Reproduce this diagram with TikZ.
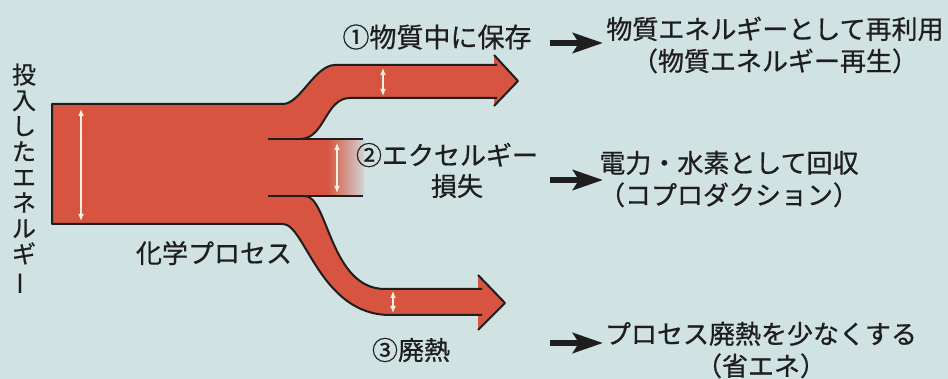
\documentclass[tikz,border=0pt]{standalone}
\usepackage{fontspec}
\setmainfont{Noto Sans CJK JP}[UprightFeatures={FakeBold=0.7}]
\usetikzlibrary{arrows.meta}
\definecolor{bg}{RGB}{208,226,226}
\definecolor{flow}{RGB}{214,84,64}
\definecolor{ink}{RGB}{30,30,30}
\definecolor{pale}{RGB}{255,240,225}
\begin{document}
\begin{tikzpicture}[x=1pt,y=-1pt,
  lbl/.style={font=\fontsize{26}{32}\selectfont, text=ink, inner sep=0pt, align=center},
  edge/.style={draw=ink, line width=2pt, line join=round},
  dim/.style={draw=pale, line width=1.3pt, {Latex[length=7pt,width=6pt]}-{Latex[length=7pt,width=6pt]}},
  bigarrow/.style={draw=ink, line width=6pt, -{Stealth[length=30pt,width=20pt,inset=6pt]}}]
\fill[bg] (0,0) rectangle (948,379);
\useasboundingbox (0,0) rectangle (948,379);
% flow body
\fill[flow] (52,104) -- (283,104) .. controls (300,104) and (315,65) .. (335,65) -- (497,65) -- (497,98) -- (350,98)
  .. controls (325,98) and (325,139) .. (300,139) -- (300,196) -- (305,196)
  .. controls (328,196) and (330,289) .. (385,289) -- (482,289) -- (482,315) -- (390,315)
  .. controls (320,315) and (305,224) .. (283,224) -- (52,224) -- cycle;
\fill[flow] (494,55) -- (518,81) -- (494,106) -- cycle;
\fill[flow] (478,275) -- (505,303) -- (478,330) -- cycle;
\fill[flow] (295,139) rectangle (328,196);
\shade[left color=flow, right color=flow!10!bg] (327,139) rectangle (364,196);
% outlines
\draw[edge] (268,139) -- (363,139);
\draw[edge] (268,196) -- (363,196);
\draw[edge] (300,139) .. controls (325,139) and (325,98) .. (350,98) -- (497,98);
\draw[edge] (497,65) -- (335,65) .. controls (315,65) and (300,104) .. (283,104) -- (52,104) -- (52,224) -- (283,224)
  .. controls (305,224) and (320,315) .. (390,315) -- (482,315);
\draw[edge] (305,196) .. controls (328,196) and (330,289) .. (385,289) -- (482,289);
\draw[edge] (494,55) -- (518,81) -- (494,106);
\draw[edge] (478,275) -- (505,303) -- (478,330);
% dimension arrows
\coordinate (d1a) at (81,109); \coordinate (d1b) at (81,221);
\coordinate (d2a) at (337,143); \coordinate (d2b) at (337,193);
\coordinate (d3a) at (383,68); \coordinate (d3b) at (383,96);
\coordinate (d4a) at (393,291); \coordinate (d4b) at (393,313);
\draw[dim] (d1a) -- (d1b);
\draw[dim] (d2a) -- (d2b);
\draw[dim] (d3a) -- (d3b);
\draw[dim] (d4a) -- (d4b);
% labels
\node[lbl, font=\fontsize{24}{25.6}\selectfont] (vin) at (24,176) {投\\入\\し\\た\\エ\\ネ\\ル\\ギ\\\smash{\rotatebox[origin=c]{90}{ー}}};
\node[lbl] (cp) at (214,253) {化学プロセス};
\node[lbl, font=\fontsize{27}{32}\selectfont] (t1) at (437,37) {①物質中に保存};
\node[lbl] (t2a) at (447,155) {②エクセルギー};
\node[lbl] (t2b) at (457,186) {損失};
\node[lbl] (t3) at (411,350) {③廃熱};
\node[lbl] (r1) at (775,45) {物質エネルギーとして再利用\\（物質エネルギー再生）};
\node[lbl] (r2) at (729,179) {電力・水素として回収\\（コプロダクション）};
\node[lbl] (r3) at (761,350) {プロセス廃熱を少なくする\\（省エネ）};
% black arrows
\coordinate (a1s) at (550,43); \coordinate (a1e) at (603,43);
\coordinate (a2s) at (550,180); \coordinate (a2e) at (603,180);
\coordinate (a3s) at (550,343); \coordinate (a3e) at (603,343);
\draw[bigarrow] (a1s) -- (a1e);
\draw[bigarrow] (a2s) -- (a2e);
\draw[bigarrow] (a3s) -- (a3e);
\end{tikzpicture}
\end{document}
